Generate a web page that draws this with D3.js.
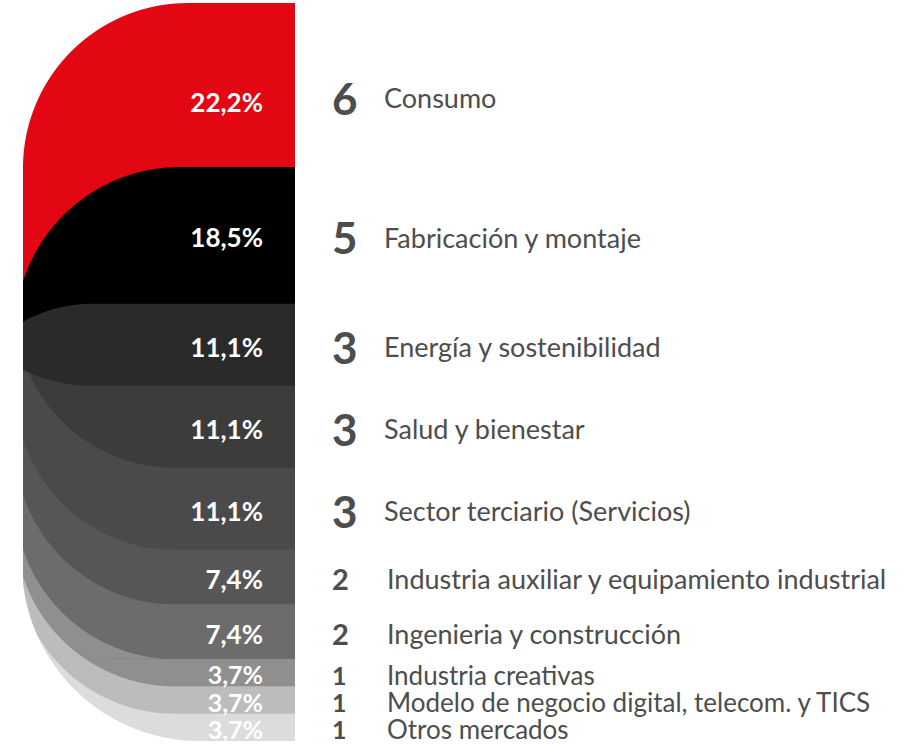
<!DOCTYPE html>
<html>
<head>
<meta charset="utf-8">
<script src="https://cdn.jsdelivr.net/npm/d3@7"></script>
<style>
  body { margin: 0; background: #fff; }
  svg text { font-family: Lato, "Open Sans", sans-serif; }
</style>
</head>
<body>
<div id="chart"></div>
<script>
// data
const sectors = [
  "Consumo",
  "Fabricación y montaje",
  "Energía y sostenibilidad",
  "Salud y bienestar",
  "Sector terciario (Servicios)",
  "Industria auxiliar y equipamiento industrial",
  "Ingenieria y construcción",
  "Industria creativas",
  "Modelo de negocio digital, telecom. y TICS",
  "Otros mercados",
];
const counts = [6, 5, 3, 3, 3, 2, 2, 1, 1, 1];
const percentLabels = ["22,2%", "18,5%", "11,1%", "11,1%", "11,1%", "7,4%", "7,4%", "3,7%", "3,7%", "3,7%"];
const bandColors = ["#e30613", "#000000", "#2a2a2a", "#3c3c3c", "#4a4a4a", "#565656", "#6c6c6c", "#8f8f8f", "#bcbcbc", "#dcdcdc"];

const width = 911, height = 745;
const xLeft = 23, xRight = 295;
const textColor = "#4d4d4d";

// round corners: tx = where the flat edge starts, r = radius
const envTop = { tx: 188, r: 165 };
const envBottom = { tx: 200, r: 178 };
const upperCorner = { tx: 180, r: 165 };
const midTop = { tx: 92, r: 141 };
const midBottom = { tx: 92, r: 157 };
const lowerCorner = { tx: 175, r: 160 };

const svg = d3.select("#chart").append("svg")
  .attr("width", width)
  .attr("height", height);

const total = d3.sum(counts);
const y = d3.scaleLinear().domain([0, total]).range([3, 741]);
const ends = Array.from(d3.cumsum(counts));
const starts = ends.map((e, i) => e - counts[i]);
const n = counts.length;
const mid = 2; // band with both corners rounded, drawn on top
const midY = y(starts[mid] + counts[mid] / 2);

function topCorner(c, top) {
  return yy => {
    const dy = top + c.r - yy;
    if (dy <= 0) return c.tx - c.r;
    return c.tx - Math.sqrt(Math.max(0, c.r * c.r - dy * dy));
  };
}
function bottomCorner(c, bottom) {
  return yy => {
    const dy = yy - (bottom - c.r);
    if (dy <= 0) return c.tx - c.r;
    return c.tx - Math.sqrt(Math.max(0, c.r * c.r - dy * dy));
  };
}
const envTopX = topCorner(envTop, y(0));
const envBottomX = bottomCorner(envBottom, y(total));
const envelope = yy => Math.max(xLeft, envTopX(yy), envBottomX(yy));

const bands = counts.map((c, i) => {
  const top = y(starts[i]), bottom = y(ends[i]);
  let ya, yb, corners = [];
  if (i < mid) {
    ya = top; yb = midY;
    if (i > 0) corners.push(topCorner(upperCorner, top));
  } else if (i > mid) {
    ya = midY; yb = bottom;
    if (i < n - 1) corners.push(bottomCorner(lowerCorner, bottom));
  } else {
    ya = top; yb = bottom;
    corners.push(topCorner(midTop, top), bottomCorner(midBottom, bottom));
  }
  return { i, top, bottom, ya, yb, corners };
});

function bandPath(b) {
  const pts = [];
  for (let yy = b.ya; yy <= b.yb; yy += 0.5) {
    const x = d3.max([envelope(yy), ...b.corners.map(f => f(yy))]);
    pts.push([x, yy]);
  }
  pts.push([envelope(b.yb), b.yb]);
  pts.push([xRight, b.yb], [xRight, b.ya]);
  return d3.line()(pts) + "Z";
}

// draw order: top bands, then bottom bands from the bottom up, then the middle one
const order = [0, 1, ...d3.range(n - 1, mid, -1), mid];

svg.append("g")
  .selectAll("path")
  .data(order.map(i => bands[i]))
  .join("path")
  .attr("d", bandPath)
  .attr("fill", d => bandColors[d.i]);

const rowY = i => (y(starts[i]) + y(ends[i])) / 2 + 3 + (i === 0 ? 11 : 0);

// percentages
svg.append("g")
  .selectAll("text")
  .data(percentLabels)
  .join("text")
  .attr("x", 263)
  .attr("y", (d, i) => rowY(i) + (i === 0 ? 4 : 0))
  .attr("dy", "0.35em")
  .attr("text-anchor", "end")
  .attr("fill", "#fff")
  .attr("font-weight", 700)
  .attr("font-size", (d, i) => (counts[i] > 1 ? 26 : 25))
  .text(d => d);

// counts
svg.append("g")
  .selectAll("text")
  .data(counts)
  .join("text")
  .attr("x", 332)
  .attr("y", (d, i) => rowY(i))
  .attr("dy", "0.36em")
  .attr("fill", textColor)
  .attr("font-weight", 700)
  .attr("font-size", d => (d >= 3 ? 44 : d === 2 ? 29 : 25))
  .text(d => d);

// sector names
svg.append("g")
  .selectAll("text")
  .data(sectors)
  .join("text")
  .attr("x", (d, i) => (counts[i] >= 3 ? 384 : 387))
  .attr("y", (d, i) => rowY(i))
  .attr("dy", "0.35em")
  .attr("fill", textColor)
  .attr("font-size", (d, i) => (counts[i] > 1 ? 27 : 26))
  .text(d => d);
</script>
</body>
</html>
